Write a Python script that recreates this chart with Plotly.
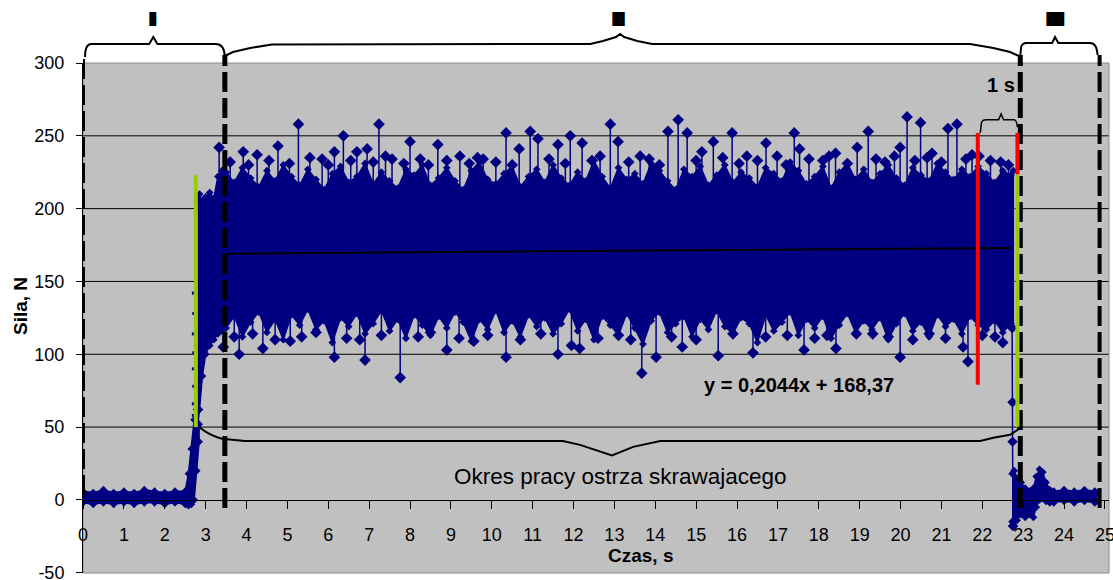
import numpy as np
import plotly.graph_objects as go

# ---------------- data ----------------
# idle phase + ramp (band: upper / lower envelope)
idle_t = [0, 0.25, 0.5, 0.75, 1.0, 1.25, 1.5, 1.75, 2.0, 2.25, 2.5, 2.58, 2.65, 2.72, 2.78, 2.84]
idle_hi = [6, 5, 7, 5, 6, 5, 7, 6, 5, 6, 6, 18, 35, 55, 62, 52]
idle_lo = [-2, -3, -2, -3, -2, -3, -2, -2, -3, -2, -3, -4, -3, 0, 20, 40]

# sparse points during the ramp
ramp_dots_t = [2.70, 2.70, 2.71, 2.70, 2.71, 2.70, 2.71, 2.70]
ramp_dots_v = [58, 66, 78, 90, 101, 114, 128, 142]

# beginning of the cutting band
pre_t = [2.80, 2.85, 2.92, 3.0, 3.1, 3.2, 3.3, 3.4]
pre_hi = [206, 210, 205, 208, 211, 207, 222, 226]
pre_lo = [50, 62, 85, 100, 106, 110, 114, 116]

# main cutting band, every 0.2 s from 3.5 s
band_hi = [225, 218, 228, 221, 215, 226, 219, 230, 222, 216,
           227, 220, 213, 224, 229, 218, 222, 231, 217, 225,
           219, 214, 227, 223, 230, 216, 221, 228, 219, 213,
           226, 232, 220, 217, 224, 229, 215, 222, 227, 218,
           230, 221, 216, 225, 219, 233, 222, 214, 228, 220,
           224, 217, 231, 226, 219, 213, 227, 222, 229, 216,
           223, 230, 218, 225, 221, 215, 228, 224, 219, 232,
           226, 217, 222, 229, 214, 225, 231, 220, 227, 218,
           224, 230, 221, 216, 228, 223, 219, 231, 225, 220,
           227, 222, 229, 224, 218, 226, 223]
band_lo = [118, 126, 112, 122, 129, 115, 124, 110, 127, 120,
           131, 117, 123, 108, 125, 119, 128, 114, 121, 130,
           116, 124, 111, 127, 120, 113, 126, 118, 129, 122,
           109, 124, 117, 130, 115, 123, 112, 127, 119, 125,
           114, 121, 131, 116, 124, 110, 126, 120, 113, 128,
           118, 107, 123, 129, 115, 121, 126, 112, 124, 117,
           130, 119, 114, 125, 121, 108, 127, 116, 122, 129,
           113, 124, 118, 126, 111, 120, 128, 115, 123, 117,
           125, 110, 121, 128, 116, 122, 112, 127, 119, 124,
           114, 126, 120, 117, 123, 115, 121]
band_t = list(np.round(3.5 + 0.2 * np.arange(len(band_hi)), 2))
last_t, last_hi, last_lo = 22.76, 226, 118

# upward spikes (time, peak)
up_t = [3.33, 3.92, 4.26, 4.77, 5.27, 5.85, 6.15, 6.37, 6.70, 6.95, 7.24, 7.56, 8.00,
        8.68, 9.22, 9.79, 10.35, 10.67, 10.94, 11.13, 11.62, 11.92, 12.21, 12.65, 12.90,
        13.09, 13.63, 14.31, 14.56, 14.78, 15.14, 15.42, 15.88, 16.24, 16.71, 16.98,
        17.40, 17.53, 17.76, 18.41, 18.94, 19.21, 19.62, 19.99, 20.16, 20.49, 20.77,
        21.16, 21.38, 21.92, 22.64,
        3.60, 4.05, 4.55, 5.05, 5.55, 6.00, 6.55, 7.10, 7.40, 7.85, 8.25, 8.45, 8.90,
        9.45, 9.65, 10.10, 10.50, 11.40, 11.80, 12.45, 13.35, 13.85, 14.10, 15.00, 15.65,
        16.05, 16.50, 17.20, 18.10, 18.25, 18.70, 19.40, 19.85, 20.35, 20.65, 21.00,
        21.60, 21.75, 22.20, 22.45]
up_v = [242, 239, 237, 243, 258, 234, 239, 250, 239, 241, 258, 234, 246,
        244, 236, 234, 252, 241, 253, 248, 244, 250, 245, 236, 258,
        246, 236, 253, 261, 252, 239, 246, 252, 236, 245, 236,
        252, 241, 234, 238, 242, 253, 232, 242, 263, 259, 238,
        255, 258, 236, 230,
        232, 230, 233, 231, 235, 230, 233, 232, 236, 231, 234, 230, 233,
        231, 235, 232, 230, 234, 231, 233, 232, 234, 230, 233, 235,
        231, 233, 230, 233, 236, 231, 234, 236, 233, 235, 232,
        234, 237, 233, 232]
# downward spikes (time, minimum)
dn_t = [3.43, 3.82, 4.40, 5.07, 6.15, 6.77, 6.90, 7.76, 8.90, 9.56, 10.35, 11.62, 11.95,
        12.15, 13.67, 14.02, 14.66, 15.54, 16.39, 17.23, 17.64, 18.42, 18.92, 19.32,
        19.99, 21.53, 21.65, 22.31,
        3.70, 4.15, 4.70, 5.35, 5.70, 6.45, 7.30, 8.20, 8.50, 9.20, 9.90, 10.70, 11.20,
        12.60, 13.10, 13.40, 14.40, 15.00, 15.90, 16.70, 17.90, 18.20, 19.70, 20.30,
        20.70, 21.10, 22.00, 22.50]
dn_v = [105, 100, 104, 109, 98, 110, 96, 84, 103, 109, 98, 100, 106,
        104, 87, 98, 105, 99, 101, 113, 103, 104, 114, 114,
        98, 105, 95, 112,
        112, 114, 110, 112, 115, 111, 113, 112, 115, 111, 113, 110, 114,
        111, 113, 110, 112, 110, 114, 112, 111, 113, 112, 110,
        114, 111, 113, 108]

# drop at the end of cutting
drop_t = [22.73, 22.74, 22.74, 22.75]
drop_v = [118, 67, 40, -18]

# after-cut oscillation
end_t = [22.73, 22.78, 22.85, 22.95, 23.05, 23.15, 23.25, 23.32, 23.40, 23.48,
         23.56, 23.65, 23.75, 24.0, 24.25, 24.5, 24.75, 24.8]
end_hi = [18, 20, 15, 12, 8, 6, 8, 16, 21, 19, 12, 7, 6, 7, 6, 7, 6, 5]
end_lo = [-15, -18, -14, -10, -12, -10, -12, -5, 0, 1, -1, -2, -2, -1, -2, -1, -2, -1]

# linear trend given on the chart
trend_slope, trend_intercept = 0.2044, 168.37
trend_t = [3.5, 22.7]

# reference markers
phase_bounds = [0, 3.47, 22.93, 24.87]
green_t = [2.76, 22.86]
red_t = [21.89, 22.86]
x_ticks = list(range(0, 26))
y_ticks = [-50, 0, 50, 100, 150, 200, 250, 300]
grid_vals = [50, 100, 150, 200, 250]

# ---------------- figure ----------------
NAVY = "#000080"
FONT = "Arial, Liberation Sans, sans-serif"

fig = go.Figure()


def band_trace(t, hi, lo):
    return go.Scatter(
        x=list(t) + list(t)[::-1], y=list(hi) + list(lo)[::-1],
        fill="toself", fillcolor=NAVY, mode="lines+markers",
        line=dict(color=NAVY, width=1.5),
        marker=dict(symbol="diamond", size=6, color=NAVY),
        hoverinfo="skip", showlegend=False)


fig.add_trace(band_trace(idle_t, idle_hi, idle_lo))
fig.add_trace(go.Scatter(x=ramp_dots_t, y=ramp_dots_v, mode="markers",
                         marker=dict(symbol="square", size=3, color=NAVY),
                         showlegend=False, hoverinfo="skip"))
main_t = pre_t + band_t + [last_t]
main_hi = pre_hi + band_hi + [last_hi]
main_lo = pre_lo + band_lo + [last_lo]
fig.add_trace(band_trace(main_t, main_hi, main_lo))

sx, sy = [], []
for t, v in zip(up_t, up_v):
    sx += [t, t, None]
    sy += [205, v, None]
for t, v in zip(dn_t, dn_v):
    sx += [t, t, None]
    sy += [140, v, None]
fig.add_trace(go.Scatter(x=sx, y=sy, mode="lines+markers",
                         line=dict(color=NAVY, width=1.5),
                         marker=dict(symbol="diamond", size=9, color=NAVY),
                         showlegend=False, hoverinfo="skip"))

fig.add_trace(go.Scatter(x=drop_t, y=drop_v, mode="lines+markers",
                         line=dict(color=NAVY, width=1.5),
                         marker=dict(symbol="diamond", size=8, color=NAVY),
                         showlegend=False, hoverinfo="skip"))
fig.add_trace(band_trace(end_t, end_hi, end_lo))

fig.add_trace(go.Scatter(x=trend_t, y=[trend_slope * t + trend_intercept for t in trend_t],
                         mode="lines", line=dict(color="black", width=2),
                         showlegend=False, hoverinfo="skip"))

shapes = []
# gridlines
for g in grid_vals:
    shapes.append(dict(type="line", xref="paper", x0=0, x1=1, yref="y", y0=g, y1=g,
                       line=dict(color="black", width=1), layer="below"))
# plot border
shapes.append(dict(type="rect", xref="paper", yref="paper", x0=0, x1=1, y0=0, y1=1,
                   line=dict(color="#8a8a8a", width=1), layer="below"))


def py(px):  # pixel row -> paper y
    return (573 - px) / 510


# dashed phase boundaries
for i, bx in enumerate(phase_bounds):
    y0 = py(495) if i == 0 else py(508)
    shapes.append(dict(type="line", xref="x", x0=bx, x1=bx, yref="paper", y0=y0, y1=py(55),
                       line=dict(color="black", width=5 if i in (1, 2) else 4, dash="20px,6px")))

# green and red markers
shapes.append(dict(type="line", x0=green_t[0], x1=green_t[0], y0=50, y1=223,
                   line=dict(color="#99CC00", width=4)))
shapes.append(dict(type="line", x0=green_t[1], x1=green_t[1], y0=50, y1=223.5,
                   line=dict(color="#99CC00", width=4)))
shapes.append(dict(type="line", x0=red_t[0], x1=red_t[0], y0=79, y1=252,
                   line=dict(color="#FF0000", width=4)))
shapes.append(dict(type="line", x0=red_t[1], x1=red_t[1], y0=223.5, y1=252,
                   line=dict(color="#FF0000", width=4)))


# top braces (x data, y paper)
def P(x, px):
    return f"{x},{py(px):.4f}"


brace1 = (f"M {P(0.05, 57)} Q {P(0.05, 44)} {P(0.2, 44)} L {P(1.62, 44)} L {P(1.72, 37)} "
          f"L {P(1.82, 44)} L {P(3.25, 44)} Q {P(3.45, 44)} {P(3.47, 56)}")
brace2 = (f"M {P(3.47, 56)} L {P(3.67, 52)} L {P(4.09, 48)} L {P(4.62, 44.5)} L {P(12.41, 44)} "
          f"L {P(12.72, 41)} L {P(13.04, 37)} L {P(13.14, 34)} L {P(13.24, 37)} L {P(13.56, 41)} "
          f"L {P(13.92, 44)} L {P(21.7, 44)} L {P(22.27, 48)} L {P(22.68, 52)} L {P(22.9, 56)}")
brace3 = (f"M {P(22.93, 56)} L {P(22.95, 47)} Q {P(22.98, 43)} {P(23.08, 43)} L {P(23.71, 43)} "
          f"L {P(23.78, 37)} L {P(23.86, 43)} L {P(24.64, 43)} Q {P(24.8, 43)} {P(24.82, 55)}")
for p in (brace1, brace2, brace3):
    shapes.append(dict(type="path", xref="x", yref="paper", path=p,
                       line=dict(color="black", width=2)))

# bottom brace (data coords)
brace_low = ("M 2.84,50 Q 3.1,44 3.4,42 L 3.96,40.5 L 11.74,40.5 L 12.16,37.8 L 12.94,30.5 "
             "L 13.46,36.4 L 14.12,40.5 L 21.95,40.5 L 22.27,42.6 L 22.68,44.7 L 22.86,48 L 22.9,50")
shapes.append(dict(type="path", xref="x", yref="y", path=brace_low,
                   line=dict(color="black", width=2)))

# small "1 s" brace
brace_1s = ("M 21.95,252 L 21.98,259 Q 22.0,261 22.1,261 L 22.4,261 L 22.46,265 L 22.52,261 "
            "L 22.78,261 Q 22.84,261 22.86,256")
shapes.append(dict(type="path", xref="x", yref="y", path=brace_1s,
                   line=dict(color="black", width=1.5)))

C = dict(xanchor="center", yanchor="middle", showarrow=False)
annotations = [
    dict(text="y = 0,2044x + 168,37", x=17.52, y=79, xref="x", yref="y",
         font=dict(family=FONT, size=20, color="black", weight="bold"), **C),
    dict(text="Okres pracy ostrza skrawajacego", x=13.14, y=16, xref="x", yref="y",
         font=dict(family=FONT, size=22.5, color="black"), **C),
    dict(text="1 s", x=22.45, y=285, xref="x", yref="y",
         font=dict(family=FONT, size=20, color="black", weight="bold"), **C),
    dict(text="Czas, s", x=13.63, y=py(555), xref="x", yref="paper",
         font=dict(family=FONT, size=19, color="black", weight="bold"), **C),
    dict(text="Sila, N", x=(20 - 83) / 1026, y=py(306), xref="paper", yref="paper",
         textangle=-90, font=dict(family=FONT, size=19, color="black", weight="bold"), **C),
]
for txt, xx in (("I", 1.71), ("II", 13.11), ("III", 23.78)):
    annotations.append(dict(text=txt, x=xx, y=py(19), xref="x", yref="paper",
                            font=dict(family=FONT, size=20, color="black", weight="bold",
                                      shadow="1px 0px 0px black, -1px 0px 0px black, "
                                             "2px 0px 0px black, -2px 0px 0px black"), **C))

fig.update_layout(
    width=1113, height=580,
    margin=dict(l=83, r=4, t=63, b=7),
    paper_bgcolor="white", plot_bgcolor="#C0C0C0",
    showlegend=False,
    shapes=shapes, annotations=annotations,
    font=dict(family=FONT, size=18, color="black"),
    xaxis=dict(range=[0, 25.1], tickvals=x_ticks, ticktext=[str(v) for v in x_ticks],
               showgrid=False, zeroline=False, showline=True, linecolor="black", linewidth=1,
               ticks="outside", ticklen=8, tickcolor="black", anchor="free",
               position=50 / 350, ticklabelstandoff=10, automargin=False,
               ticklabeloverflow="allow",
               tickfont=dict(family=FONT, size=18, color="black")),
    yaxis=dict(range=[-50.2, 300], tickvals=y_ticks, ticktext=[str(v) for v in y_ticks],
               showgrid=False, zeroline=False, showline=True, linecolor="black", linewidth=1,
               ticks="outside", ticklen=6, tickcolor="black", ticklabelstandoff=8,
               automargin=False, ticklabeloverflow="allow",
               tickfont=dict(family=FONT, size=18, color="black")),
)

fig.write_html("out.html")
